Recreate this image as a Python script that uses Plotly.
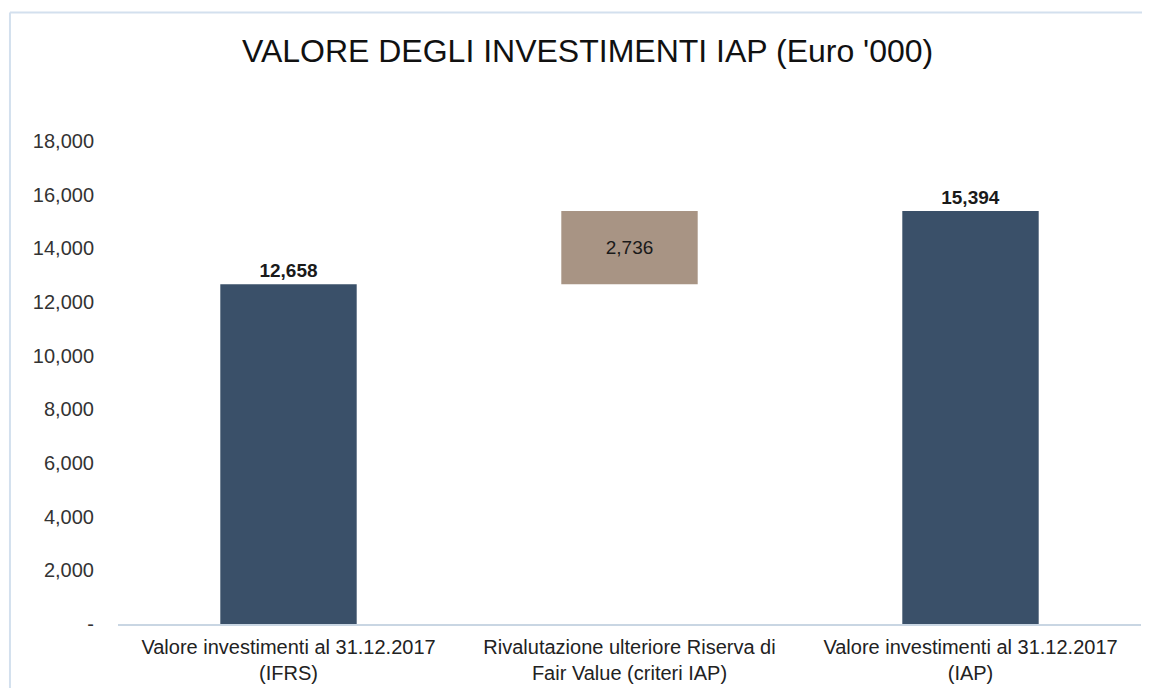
import plotly.graph_objects as go

categories = ["Valore investimenti al 31.12.2017<br>(IFRS)",
              "Rivalutazione ulteriore Riserva di<br>Fair Value (criteri IAP)",
              "Valore investimenti al 31.12.2017<br>(IAP)"]
values = [12658, 2736, 15394]
bases = [0, 12658, 0]
labels = ["<b>12,658</b>", "2,736", "<b>15,394</b>"]
colors = ["#3a5069", "#a89484", "#3a5069"]
tick_vals = [0, 2000, 4000, 6000, 8000, 10000, 12000, 14000, 16000, 18000]
tick_text = ["-", "2,000", "4,000", "6,000", "8,000", "10,000", "12,000", "14,000", "16,000", "18,000"]

font_fam = "Liberation Sans, Arial, Helvetica, sans-serif"

fig = go.Figure()
fig.add_trace(go.Bar(
    x=categories, y=values, base=bases,
    marker=dict(color=colors, line=dict(width=0)),
    text=labels,
    textposition=["outside", "inside", "outside"],
    insidetextanchor="middle",
    textfont=dict(size=19, color="#1a1a1a", family=font_fam),
    cliponaxis=False,
    width=0.4,
))

fig.update_layout(
    width=1150, height=688,
    margin=dict(l=110, r=17, t=133, b=70),
    paper_bgcolor="white", plot_bgcolor="white",
    showlegend=False,
    title=dict(text="VALORE DEGLI INVESTIMENTI IAP (Euro '000)",
               x=0.504, xanchor="center", y=0.9375, yanchor="middle",
               font=dict(size=32, color="#111111", family=font_fam)),
    xaxis=dict(showline=True, linecolor="#c9d6e3", linewidth=2,
               ticks="", showgrid=False, ticklabelstandoff=4,
               tickfont=dict(size=20, color="#222222", family=font_fam)),
    yaxis=dict(range=[0, 18000], tickvals=tick_vals, ticktext=tick_text,
               showgrid=False, zeroline=False, showline=False,
               ticks="", ticklen=0, ticklabelstandoff=23,
               tickfont=dict(size=20, color="#333333", family=font_fam)),
    shapes=[
        dict(type="line", xref="paper", yref="paper", x0=-0.1056, x1=-0.1056, y0=-0.3, y1=1.266,
             line=dict(color="#d3e0ee", width=2)),
        dict(type="line", xref="paper", yref="paper", x0=-0.1056, x1=1.02, y0=1.266, y1=1.266,
             line=dict(color="#d3e0ee", width=2)),
    ],
)

fig.write_html("out.html")
